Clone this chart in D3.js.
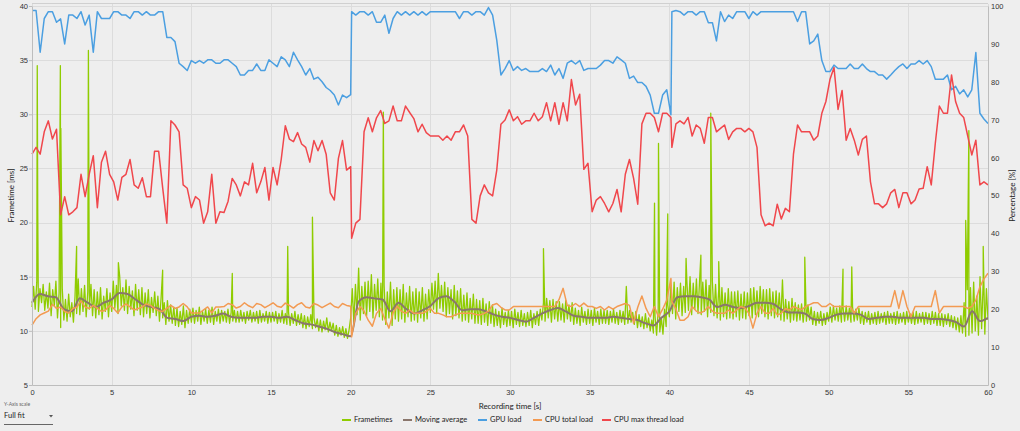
<!DOCTYPE html>
<html>
<head>
<meta charset="utf-8">
<script src="https://cdn.jsdelivr.net/npm/d3@7"></script>
<style>
  html, body { margin: 0; padding: 0; background: #eeeeee; }
  svg { display: block; font-family: Lato, "Noto Sans", sans-serif; }
</style>
</head>
<body>
<svg id="chart" width="1020" height="431"></svg>
<script>
// sensor logs come in three 20 s runs, each with its own sample count
const sensorRuns = [
  { start: 0, end: 20, n: 79 },
  { start: 20.06, end: 40.1, n: 78 },
  { start: 40.16, end: 60, n: 79 }
];

const gpuLoad = [
  98.8,98.8,87.8,96.7,98.5,98.5,95.7,96.6,90,97.6,
  97.6,96.7,98.5,95,97.6,87.8,98.5,96.7,96.7,96.7,
  98.5,98.5,97.6,97.6,96.7,98.5,98.5,97.6,98.5,97.6,
  97.6,98.5,98.5,91.7,91.7,90.6,84.9,84,83,85.6,
  84.9,85.6,84.9,85.8,85.8,84.9,84.9,85.8,85.8,84.9,
  84,81.8,81.8,83,83,84.7,83,83,85.8,84.9,
  84,86.6,85.8,84,87.8,85.8,84,81.8,83.5,80.7,
  81.2,80,78.5,77.7,76.5,73.9,76.5,75.8,76.6,
  98.5,97.6,98.5,98.5,97.6,98.5,95.7,95.7,97.6,92.8,
  96.7,98.5,97.6,98.5,97.6,98.5,97.6,98.5,97.6,98.5,
  98.5,98.5,98.5,98.5,98.5,98.5,96.7,98.5,98.5,97.6,
  98.5,98.5,97.6,99.6,97.6,91,81.8,83.5,85.6,83,
  84,83,83.5,82.7,82.7,82.7,83.5,82.7,84.4,81.8,
  83.5,80.9,84.9,85.6,84.7,85.6,83,83.5,83.5,83.5,
  84.4,85.6,85.6,84.9,86.6,85.8,84.9,80.9,81.5,79.8,
  79.8,78.8,76.5,71.7,71.7,76.5,77.9,71.3,
  98.5,98.8,98.5,97.6,98.5,98.5,97.6,98.5,98.5,95.6,
  95.6,90.8,98.5,95.9,97.6,96.7,98.5,98.5,98.5,96.7,
  98.5,97.6,98.5,98.5,98.5,98.5,98.5,98.5,98.5,98.5,
  98.5,95.9,98.5,98.5,90,90.8,92.6,85.6,82.7,82.7,
  84.4,83.5,83.5,83.5,84.7,83.5,83.5,84.7,83.5,82.7,
  82.7,81.8,81.8,80.7,81.8,83,84,84.7,83.5,84.7,
  84.7,85.6,84.7,85.6,84,80.7,80.7,80.7,81.8,77.9,
  78.8,76.8,77.9,76,77.9,87.7,71.7,70.2,69
];

const cpuTotalLoad = [
  15.8,17.5,18.5,19,19.5,21.3,20.2,20.6,19.4,19,
  20.2,20.6,22.2,20.6,20.2,21,20.2,19.4,19.8,21,
  20.2,19,20.6,21.4,20.6,19.8,20.2,20.6,21.4,21,
  20.2,19.6,19.4,20.2,21,20.2,20.6,21.5,20.6,19,
  19,19,19.8,20.6,19,20.6,20.6,20.7,21.5,21.2,
  20.3,20.7,21.7,20.9,20.4,21.5,21.2,20.4,21,21.7,
  20.8,20.5,21.6,21,20.3,21.2,21.7,20.6,20.3,21.5,
  21.1,20.4,21,21.6,20.7,20.4,21.5,21,20.8,
  12.7,18.9,20.7,19.5,17.1,15.5,18.9,20.2,17.5,15,
  19,20.8,19.5,18.9,19.8,18.9,18.9,18.9,19.4,20.2,
  18.9,18.9,18.5,18,18,18.5,18.9,18.9,18.9,18.9,
  18.6,18.5,18.9,19.5,21.1,21.5,20.5,19.8,19.8,20.7,
  20.7,20.7,20.7,20.7,20.7,20.7,20.7,20.7,20.7,20.7,
  22.5,25.5,21,20.7,21.5,20.7,21.6,20.7,20.7,20.2,
  20.7,19.8,20.7,20,20.7,21.1,21.5,21,16.3,20.5,
  23.5,20.2,18,20.7,18,20,22.4,28.1,
  22,20,17.1,17.1,18,20.7,19.5,19,19.5,20.7,
  19.5,18.9,18.9,18.9,19.8,18.9,19.8,20.7,20.3,18.9,
  15,18.9,20.7,18.9,18.9,20.2,18.5,18.9,20.2,19.8,
  20.7,20.2,19.9,20.7,21.2,21.7,21.7,20.7,20.7,21.5,
  20.7,20.7,20.7,20.7,20.7,19,20.7,20.7,20.7,20.7,
  20.7,20.7,20.7,20.7,20.7,24.9,20.2,24.9,20.7,18,
  20.7,20.7,20.7,20.7,20.7,24.9,19,20.7,20.7,20.7,
  20.7,20.7,20.7,20.2,20.7,22.4,25.9,28,29.5
];

const cpuMaxThreadLoad = [
  60.9,62.7,60.9,66.8,69.7,64.9,67.5,44.9,49.7,44.9,
  45.7,46.8,55.6,49.7,55.6,60.5,46.8,58.8,61.7,55.6,
  53.6,48.8,54.8,55.6,59.5,52.8,51.9,54.7,49.7,49.7,
  61.7,61.7,51.9,42.7,69.7,68.6,66.8,52.8,51.9,46.8,
  49.7,48.8,42.7,45.7,55.6,42.7,45.7,45.5,48.5,54.5,
  52.8,49.9,53.6,52.8,58.5,50.7,53.6,57.4,48.8,57.4,
  52.8,59.5,68.4,64.9,64.2,66.6,63.6,62.7,58.8,64.5,
  61.8,64.5,60.9,50.7,48.8,59.8,64.5,56.7,57.6,
  38.7,42.7,43.7,66.8,70.5,66.8,70.5,72.4,69,69.7,
  73.6,69.7,69.7,73.6,71.9,70.3,66.8,68.8,66.6,65.7,
  65.7,65.7,64.6,65.7,64.6,66.8,66.8,68.6,65.7,43.7,
  42.7,49.9,52.8,50.7,49.9,56.7,68.8,69.9,72.6,69.7,
  70.8,68.8,69.7,69.7,71.7,69.7,70.8,74.5,69.7,74.5,
  68.8,74.5,69.7,80.6,73.9,76.7,56.9,58.5,45.7,48.8,
  49.7,47.9,45.7,47.9,51.6,45.7,55.6,59.5,54.5,47.7,
  68.9,71.7,71.7,70.6,66.8,71.7,71.7,70.6,
  62.7,68.9,69.7,68.9,70.6,65.7,68.6,67.7,63.8,70.6,
  70.6,66.8,67.7,68.6,64.8,66.8,67.7,67.7,66.8,67.7,
  66.8,62.7,44.9,42,42.7,42,47.7,43.8,46.6,45.7,
  60.9,68.6,66.8,66.8,66.8,64.6,65.7,71.7,74.8,80.6,
  83.8,72.7,77.7,64.6,67.7,64.6,60.7,64.8,65.7,53.6,
  47.8,47.8,46.8,47.8,50.7,51.6,46.8,50.7,50.7,47.8,
  48.8,51.7,51.9,57.6,52.8,63.8,73.6,71.7,71.7,81.8,
  74.8,71.7,70.6,65.7,60.7,64.6,52.8,53.6,52.8
];

// frametimes, one value every 0.1 s
const frametimeStep = 0.1;
const frametimes = [
  12.2,14.1,12.0,14.5,11.8,13.9,12.6,14.3,11.9,13.6,
  12.1,14.4,11.4,13.8,12.3,14.6,11.2,13.5,10.3,13.9,
  11.0,12.9,10.9,13.4,11.3,12.6,10.8,13.2,11.6,14.8,
  11.5,13.9,11.8,14.2,11.3,13.6,12.0,14.3,11.4,13.8,
  11.2,13.6,11.5,14.0,11.1,13.2,11.8,13.9,11.3,13.5,
  11.8,14.6,12.1,14.2,11.6,15.1,12.3,14.0,11.9,14.7,
  11.6,14.1,12.0,13.7,11.4,14.3,11.9,13.8,11.5,14.0,
  11.3,13.5,11.6,13.8,11.2,13.1,11.7,13.6,11.4,13.2,
  10.9,13.0,11.2,12.6,10.6,12.8,10.9,12.4,10.7,12.2,
  10.5,12.1,10.4,11.8,10.6,12.3,10.3,11.9,10.7,12.0,
  10.8,12.1,10.7,11.9,10.9,12.2,10.6,11.8,10.9,12.0,
  10.7,11.9,10.8,12.2,10.6,11.8,10.9,12.0,10.7,11.9,
  10.9,11.8,10.8,12.0,10.7,11.7,10.9,11.9,10.8,11.8,
  10.8,11.9,10.9,11.7,10.7,11.8,11.0,11.9,10.8,11.7,
  10.9,11.8,10.7,11.9,10.8,11.6,10.9,11.8,10.7,11.7,
  10.8,11.7,10.9,11.8,10.7,11.6,10.8,11.9,10.7,11.6,
  10.6,11.7,10.5,11.6,10.7,11.8,10.5,11.5,10.6,11.6,
  10.3,11.4,10.2,11.3,10.4,11.5,10.2,11.2,10.3,11.1,
  10.0,11.0,9.9,10.9,10.1,11.2,9.9,10.8,10.0,10.7,
  9.6,10.5,9.5,10.3,9.6,10.4,9.4,10.2,9.3,10.1,
  11.2,13.9,10.8,14.3,11.5,15.8,11.0,14.1,11.6,14.5,
  11.4,14.6,11.8,15.2,11.2,14.3,11.9,14.8,11.3,14.4,
  11.0,14.2,10.6,13.6,11.2,14.5,10.5,13.8,11.1,14.0,
  10.9,13.8,11.1,14.3,10.8,13.5,11.3,14.1,10.9,13.6,
  11.0,13.9,10.8,13.6,11.2,14.0,10.9,13.4,11.1,13.8,
  11.7,14.4,12.0,14.6,11.6,15.3,12.1,14.2,11.8,14.5,
  11.3,14.0,11.6,13.8,11.1,14.2,11.4,13.7,11.2,13.9,
  10.9,13.3,11.0,13.5,10.8,13.0,11.1,13.4,10.7,12.9,
  10.7,12.8,10.6,13.0,10.8,12.5,10.5,12.7,10.7,12.4,
  10.4,12.0,10.5,11.8,10.3,12.1,10.6,11.7,10.4,11.9,
  10.5,11.8,10.3,12.0,10.6,11.7,10.4,11.9,10.5,11.6,
  10.4,11.7,10.5,11.9,10.3,11.6,10.6,11.8,10.5,12.0,
  11.0,12.6,10.9,13.0,11.2,12.8,10.8,12.9,11.1,12.7,
  10.9,12.7,11.0,12.5,10.8,12.8,11.1,12.4,10.9,12.6,
  10.6,12.1,10.7,11.9,10.5,12.2,10.8,11.8,10.6,12.0,
  10.7,11.9,10.5,12.1,10.8,11.8,10.6,12.0,10.7,11.9,
  10.7,11.9,10.6,11.8,10.8,12.0,10.7,11.7,10.6,11.9,
  10.8,11.8,10.6,14.1,10.7,11.9,10.8,11.7,10.6,11.8,
  10.3,11.5,10.4,11.3,10.2,11.6,10.3,11.2,10.0,11.0,
  9.8,11.4,9.6,11.8,9.9,11.2,9.7,12.0,10.4,12.4,
  11.3,14.2,11.6,14.5,11.1,14.0,11.8,14.4,11.4,14.1,
  11.7,14.6,11.9,15.0,11.5,14.4,12.0,14.8,11.6,14.7,
  11.5,14.5,11.8,14.7,11.3,14.2,11.7,14.6,11.4,14.3,
  11.2,13.8,11.0,14.0,11.3,13.5,11.1,13.9,11.2,13.6,
  11.1,13.6,11.3,13.7,11.0,13.4,11.2,13.6,11.1,13.5,
  11.4,13.9,11.2,14.0,11.5,13.7,11.3,14.1,11.6,13.8,
  11.3,13.8,11.1,13.9,11.4,13.6,11.2,13.7,11.3,13.5,
  11.0,14.7,10.9,12.9,11.1,12.7,10.8,13.0,11.0,12.6,
  10.9,12.4,11.0,12.5,10.8,12.3,10.9,12.4,11.0,12.2,
  10.6,11.8,10.5,11.7,10.7,11.8,10.5,11.6,10.6,11.7,
  10.9,12.2,10.8,12.3,11.0,12.1,10.9,12.3,10.8,12.2,
  10.9,12.3,11.0,12.1,10.8,12.2,10.9,12.0,11.0,12.1,
  10.7,11.8,10.6,11.7,10.8,11.8,10.6,11.6,10.7,11.7,
  10.6,11.8,10.7,11.6,10.8,11.7,10.6,11.8,10.7,11.6,
  10.7,11.7,10.6,11.8,10.7,11.6,10.8,11.7,10.6,11.8,
  10.8,11.6,10.7,11.7,10.6,11.8,10.7,11.6,10.8,11.7,
  10.6,11.7,10.7,11.6,10.6,11.8,10.7,11.7,10.5,11.6,
  10.5,11.6,10.4,11.5,10.6,11.6,10.4,11.4,10.3,11.3,
  10.1,11.2,9.9,11.4,9.8,12.6,9.5,13.8,9.6,14.0,
  9.8,14.5,10.0,13.2,9.6,15.0,10.2,14.6,9.7,13.9,
  11.0
];

// single long frames [time s, frametime ms]
const frametimeSpikes = [
  [0.33, 34.5], [0.36, 21.2], [1.78, 34.5], [1.81, 28.7], [2.8, 17.8],
  [3.54, 35.9], [5.42, 16.3], [8.2, 15.6], [12.57, 15.3], [16.05, 17.8],
  [17.6, 20.5], [22.05, 30.2], [32.1, 17.6], [39.07, 21.8], [39.32, 27.3],
  [39.9, 20.8], [41.05, 16.7], [41.98, 17.0], [42.6, 30.1], [43.1, 16.4],
  [48.5, 16.8], [50.9, 15.7], [51.45, 15.9], [58.6, 20.2], [58.8, 28.5],
  [59.7, 17.8]
];

// moving average, one value every 0.5 s
const movingAvgStep = 0.5;
const movingAverage = [
  12.6,13.4,13.2,13.1,12.0,11.8,13.0,12.6,12.2,12.6,
  12.9,13.5,13.4,12.9,12.4,12.2,12.0,11.2,11.1,10.9,
  11.3,11.4,11.3,11.4,11.6,11.3,11.2,11.2,11.2,11.3,
  11.3,11.2,11.3,11.0,10.7,10.6,10.4,10.2,9.9,9.7,
  9.5,12.7,13.1,13.0,12.9,11.8,12.6,12.0,11.6,11.9,
  12.3,13.0,13.2,12.7,11.9,12.0,12.0,11.8,11.5,11.3,
  11.2,11.0,10.85,11.2,11.6,11.9,12.1,11.8,11.4,11.3,
  11.2,11.2,11.2,11.3,11.2,11.1,11.0,10.7,10.5,11.2,
  11.8,13.1,13.2,13.2,13.1,12.9,12.2,12.4,12.2,12.1,
  12.3,12.6,12.6,12.5,12.0,11.7,11.7,11.6,11.1,11.0,
  11.2,11.5,11.6,11.6,11.5,11.1,11.2,11.3,11.3,11.2,
  11.2,11.2,11.2,11.1,11.1,11.0,10.8,10.4,11.8,10.9,
  11.2
];

const xTicks = d3.range(0, 61, 5);
const frametimeTicks = d3.range(5, 41, 5);
const percentTicks = d3.range(0, 101, 10);

const legendItems = [
  { label: "Frametimes", color: "#8fcc00" },
  { label: "Moving average", color: "#8a766c" },
  { label: "GPU load", color: "#4b9fe1" },
  { label: "CPU total load", color: "#f39a52" },
  { label: "CPU max thread load", color: "#f0474c" }
];

// ---- layout
const plot = { left: 32, right: 988, top: 6, bottom: 385 };
const svg = d3.select("#chart");

const x = d3.scaleLinear().domain([0, 60]).range([plot.left, plot.right]);
const yMs = d3.scaleLinear().domain([5, 40]).range([plot.bottom, plot.top]);
const yPct = d3.scaleLinear().domain([0, 100]).range([plot.bottom, plot.top]);

// times for the sensor samples
const sensorTimes = sensorRuns.flatMap(r =>
  d3.range(r.n).map(k => r.start + (k * (r.end - r.start)) / (r.n - 1))
);

//grid
const grid = svg.append("g").attr("stroke", "#dcdcdc").attr("stroke-width", 1);
grid.selectAll("line.v")
  .data(xTicks)
  .join("line")
  .attr("x1", d => Math.round(x(d)) + 0.5)
  .attr("x2", d => Math.round(x(d)) + 0.5)
  .attr("y1", plot.top - 2)
  .attr("y2", plot.bottom);
grid.selectAll("line.h")
  .data(frametimeTicks)
  .join("line")
  .attr("x1", plot.left)
  .attr("x2", plot.right)
  .attr("y1", d => Math.round(yMs(d)) + 0.5)
  .attr("y2", d => Math.round(yMs(d)) + 0.5);
svg.append("line")
  .attr("x1", plot.left).attr("x2", plot.right)
  .attr("y1", plot.top - 2.5).attr("y2", plot.top - 2.5)
  .attr("stroke", "#d0d0d0");

//series
const frameData = frametimes
  .map((v, i) => [i * frametimeStep, v])
  .concat(frametimeSpikes)
  .sort((a, b) => a[0] - b[0]);

const lineMs = d3.line().x(d => x(d[0])).y(d => yMs(d[1]));
const linePct = d3.line().x(d => x(d[0])).y(d => yPct(d[1]));

const series = svg.append("g").attr("fill", "none").attr("stroke-linejoin", "round");

series.append("path")
  .datum(frameData)
  .attr("d", lineMs)
  .attr("stroke", legendItems[0].color)
  .attr("stroke-width", 1.3);

series.append("path")
  .datum(movingAverage.map((v, i) => [i * movingAvgStep, v]))
  .attr("d", lineMs.curve(d3.curveMonotoneX))
  .attr("stroke", legendItems[1].color)
  .attr("stroke-width", 2);

const sensorSeries = [
  { values: gpuLoad, color: legendItems[2].color },
  { values: cpuTotalLoad, color: legendItems[3].color },
  { values: cpuMaxThreadLoad, color: legendItems[4].color }
];
sensorSeries.forEach(s => {
  series.append("path")
    .datum(s.values.map((v, i) => [sensorTimes[i], v]))
    .attr("d", linePct)
    .attr("stroke", s.color)
    .attr("stroke-width", 1.5);
});

//axes
const axisColor = "#bdbdbd";
const styleAxis = g => {
  g.select(".domain").attr("stroke", axisColor);
  g.selectAll(".tick line").attr("stroke", axisColor);
  g.selectAll(".tick text").attr("fill", "#333").style("font-size", "7.5px");
};

svg.append("g")
  .attr("transform", `translate(${plot.left},0)`)
  .call(d3.axisLeft(yMs).tickValues(frametimeTicks).tickSize(3).tickPadding(1).tickSizeOuter(0))
  .call(styleAxis);

svg.append("g")
  .attr("transform", `translate(${plot.right},0)`)
  .call(d3.axisRight(yPct).tickValues(percentTicks).tickSize(0).tickPadding(3).tickSizeOuter(0))
  .call(styleAxis);

svg.append("g")
  .attr("transform", `translate(0,${plot.bottom})`)
  .call(d3.axisBottom(x).tickValues(xTicks).tickSize(0).tickPadding(5).tickSizeOuter(0))
  .call(styleAxis);

//axis titles
const title = (x0, y0, rotate, text) =>
  svg.append("text")
    .attr("transform", `translate(${x0},${y0})` + (rotate ? " rotate(-90)" : ""))
    .attr("text-anchor", "middle")
    .attr("dominant-baseline", "middle")
    .style("font-size", "8px")
    .attr("fill", "#222")
    .text(text);

title(12, (plot.top + plot.bottom) / 2, true, "Frametime [ms]");
title(1013, (plot.top + plot.bottom) / 2, true, "Percentage [%]");
title((plot.left + plot.right) / 2, 407, false, "Recording time [s]");

//legend
const legendX = [342, 403, 478, 533, 602];
const legend = svg.append("g").attr("transform", "translate(0,420)");
const item = legend.selectAll("g")
  .data(legendItems)
  .join("g")
  .attr("transform", (d, i) => `translate(${legendX[i]},0)`);
item.append("line")
  .attr("x1", 0).attr("x2", 9)
  .attr("stroke", d => d.color)
  .attr("stroke-width", 2);
item.append("text")
  .attr("x", 12)
  .attr("dominant-baseline", "middle")
  .style("font-size", "7.5px")
  .attr("fill", "#222")
  .text(d => d.label);

//y-axis scale selector
const picker = svg.append("g");
picker.append("text")
  .attr("x", 4).attr("y", 405)
  .attr("dominant-baseline", "middle")
  .style("font-size", "5px")
  .attr("fill", "#666")
  .text("Y-Axis scale");
picker.append("text")
  .attr("x", 4).attr("y", 416)
  .attr("dominant-baseline", "middle")
  .style("font-size", "7.5px")
  .attr("fill", "#222")
  .text("Full fit");
picker.append("path")
  .attr("d", "M49,415 L53,415 L51,417.5 Z")
  .attr("fill", "#555");
picker.append("line")
  .attr("x1", 4).attr("x2", 53)
  .attr("y1", 424.5).attr("y2", 424.5)
  .attr("stroke", "#666");
</script>
</body>
</html>
